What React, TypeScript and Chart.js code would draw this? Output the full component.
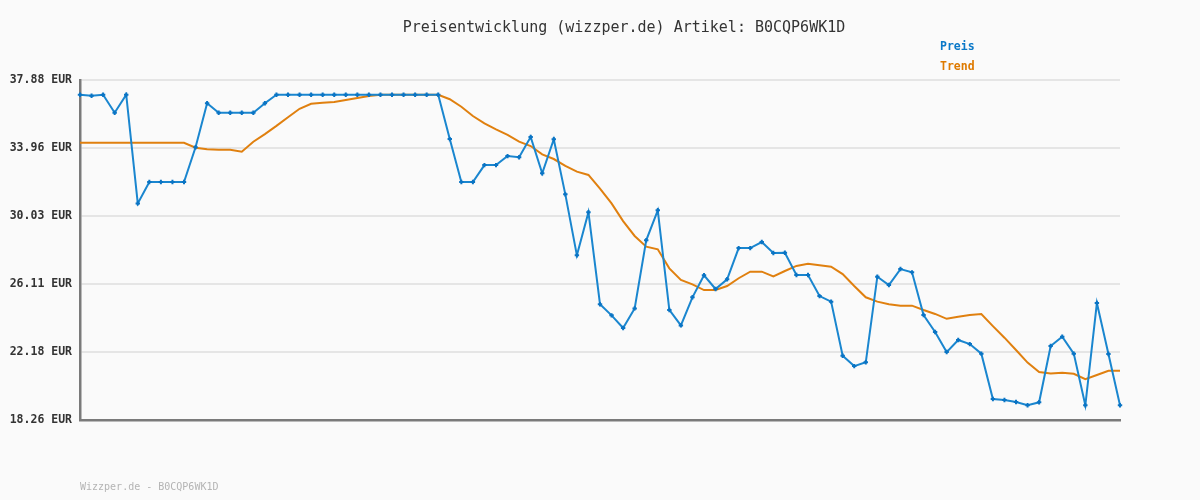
import React, { useEffect, useRef } from "react";
import { Chart, registerables } from "chart.js";

Chart.register(...registerables);

const titleText = "Preisentwicklung (wizzper.de) Artikel: B0CQP6WK1D";
const footerText = "Wizzper.de - B0CQP6WK1D";
const currency = "EUR";

const yTicks = [18.26, 22.18, 26.11, 30.03, 33.96, 37.88];

const priceValues = [
  37.03, 36.97, 37.03, 35.99, 37.03, 30.76, 31.99, 31.99, 31.99, 31.99,
  34.0, 36.54, 35.99, 35.99, 35.99, 35.99, 36.54, 37.03, 37.03, 37.03,
  37.03, 37.03, 37.03, 37.03, 37.03, 37.03, 37.03, 37.03, 37.03, 37.03,
  37.03, 37.03, 34.47, 31.99, 31.99, 32.97, 32.97, 33.49, 33.42, 34.59,
  32.5, 34.46, 31.28, 27.76, 30.25, 24.94, 24.3, 23.57, 24.7, 28.63,
  30.36, 24.61, 23.72, 25.34, 26.61, 25.82, 26.38, 28.18, 28.18, 28.53,
  27.9, 27.91, 26.63, 26.63, 25.41, 25.09, 21.97, 21.37, 21.59, 26.53,
  26.05, 26.97, 26.78, 24.32, 23.34, 22.18, 22.88, 22.64, 22.09, 19.47,
  19.41, 19.3, 19.11, 19.28, 22.53, 23.07, 22.09, 19.11, 25.01, 22.07,
  19.11,
];

const trendValues = [
  34.26, 34.26, 34.26, 34.26, 34.26, 34.26, 34.26, 34.26, 34.26, 34.26,
  33.97, 33.88, 33.85, 33.85, 33.74, 34.32, 34.76, 35.23, 35.73, 36.22,
  36.51, 36.57, 36.61, 36.73, 36.84, 36.96, 37.03, 37.03, 37.03, 37.03,
  37.03, 37.03, 36.77, 36.34, 35.8, 35.38, 35.03, 34.71, 34.32, 34.07,
  33.59, 33.32, 32.92, 32.59, 32.4, 31.61, 30.76, 29.74, 28.88, 28.26,
  28.11, 27.01, 26.34, 26.09, 25.76, 25.76, 25.99, 26.44, 26.82, 26.82,
  26.55, 26.86, 27.15, 27.28, 27.19, 27.11, 26.68, 25.99, 25.34, 25.09,
  24.94, 24.86, 24.86, 24.61, 24.38, 24.1, 24.22, 24.32, 24.38, 23.68,
  23.01, 22.3, 21.57, 21.03, 20.95, 20.99, 20.93, 20.61, 20.86, 21.1,
  21.1,
];

const categories = priceValues.map((_, i) => String(i + 1));

const BLUE = "#1a86cf";
const BLUE_DARK = "#0a74c4";
const ORANGE = "#e0800f";
const MONO = "'DejaVu Sans Mono', 'Liberation Mono', monospace";

const decorPlugin = {
  id: "decor",
  beforeDraw(chart: any) {
    const ctx = chart.ctx;
    ctx.save();
    ctx.fillStyle = "#fafafa";
    ctx.fillRect(0, 0, chart.width, chart.height);
    ctx.restore();
  },
  afterDraw(chart: any) {
    const ctx = chart.ctx;
    ctx.save();
    ctx.textBaseline = "middle";
    // title
    ctx.font = `15px ${MONO}`;
    ctx.fillStyle = "#333333";
    ctx.textAlign = "center";
    ctx.fillText(titleText, 624, 28);
    // legend
    ctx.font = `bold 11.5px ${MONO}`;
    ctx.textAlign = "left";
    chart.data.datasets.forEach((ds: any, i: number) => {
      ctx.fillStyle = ds.legendColor;
      ctx.fillText(ds.label, 940, 47 + i * 20);
    });
    // footer
    ctx.font = `10px ${MONO}`;
    ctx.fillStyle = "#b4b4b4";
    ctx.fillText(footerText, 80, 487);
    ctx.restore();
  },
};

export default function App() {
  const ref = useRef<HTMLCanvasElement | null>(null);
  useEffect(() => {
    if (!ref.current) return;
    const chart = new Chart(ref.current, {
      type: "line",
      data: {
        labels: categories,
        datasets: [
          {
            label: "Preis",
            data: priceValues,
            borderColor: BLUE,
            borderWidth: 2,
            pointStyle: "cross",
            pointRadius: 2.2,
            pointBorderWidth: 2,
            pointBorderColor: BLUE_DARK,
            pointBackgroundColor: BLUE_DARK,
            tension: 0,
            order: 1,
            legendColor: "#0a78c8",
          } as any,
          {
            label: "Trend",
            data: trendValues,
            borderColor: ORANGE,
            borderWidth: 2,
            pointRadius: 0,
            tension: 0,
            order: 2,
            legendColor: "#de7a00",
          } as any,
        ],
      },
      options: {
        responsive: false,
        animation: false,
        layout: { padding: { top: 80, bottom: 80, left: 0, right: 80 } },
        plugins: {
          legend: { display: false },
          title: { display: false },
          tooltip: { enabled: false },
        },
        scales: {
          x: {
            grid: { display: false },
            ticks: { display: false },
            border: { display: true, color: "#7a7a7a", width: 2.5 },
            offset: false,
            afterFit: (scale: any) => {
              scale.height = 0;
            },
          },
          y: {
            min: yTicks[0],
            max: yTicks[yTicks.length - 1],
            afterBuildTicks: (scale: any) => {
              scale.ticks = yTicks.map((v) => ({ value: v }));
            },
            afterFit: (scale: any) => {
              scale.width = 80;
            },
            grid: {
              color: "#e5e5e5",
              lineWidth: 2,
              drawTicks: false,
            },
            border: { display: true, color: "#7a7a7a", width: 2.5 },
            ticks: {
              padding: 8,
              color: "#333333",
              font: { family: MONO, size: 11.5, weight: "bold" },
              callback: (v: any) => `${Number(v).toFixed(2)} ${currency}`,
            },
          },
        },
      },
      plugins: [decorPlugin],
    });
    return () => chart.destroy();
  }, []);
  return (
    <div
      style={{
        position: "absolute",
        left: 0,
        top: 0,
        width: 1200,
        height: 500,
        background: "#fafafa",
      }}
    >
      <canvas ref={ref} width={1200} height={500} />
    </div>
  );
}
